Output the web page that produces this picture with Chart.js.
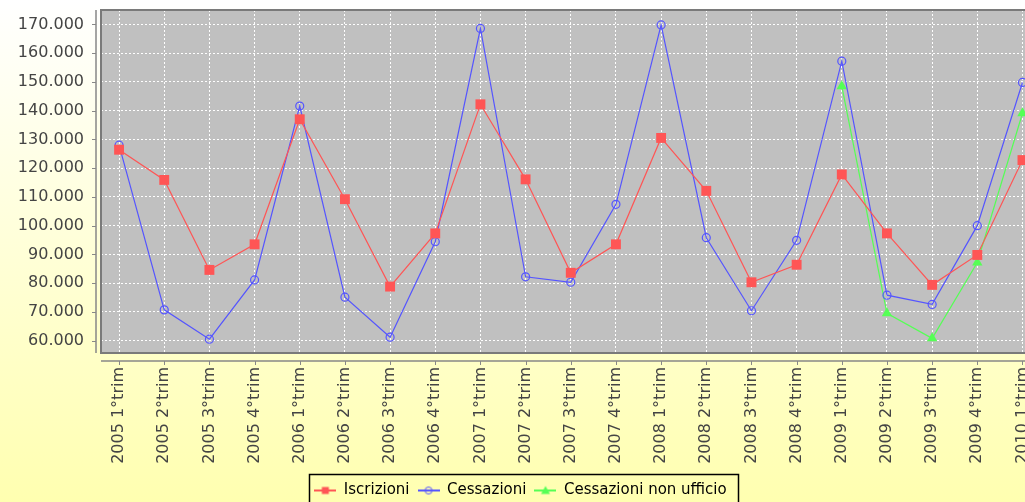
<!DOCTYPE html>
<html>
<head>
<meta charset="utf-8">
<script src="https://cdn.jsdelivr.net/npm/chart.js@4.4.1/dist/chart.umd.min.js"></script>
<style>
  html, body { margin: 0; padding: 0; width: 1025px; height: 502px; overflow: hidden; }
  body { background: linear-gradient(to bottom, #ffffff 0px, #ffffb0 502px); }
</style>
</head>
<body>
<canvas id="chart" width="1063" height="508"></canvas>
<script>
const categories = [
  '2005 1°trim', '2005 2°trim', '2005 3°trim', '2005 4°trim',
  '2006 1°trim', '2006 2°trim', '2006 3°trim', '2006 4°trim',
  '2007 1°trim', '2007 2°trim', '2007 3°trim', '2007 4°trim',
  '2008 1°trim', '2008 2°trim', '2008 3°trim', '2008 4°trim',
  '2009 1°trim', '2009 2°trim', '2009 3°trim', '2009 4°trim',
  '2010 1°trim'
];
const iscrizioni = [126400, 115900, 84600, 93500, 137000, 109200, 78800, 97300, 142200, 116100, 83600, 93500,
  130500, 112100, 80300, 86400, 117800, 97300, 79400, 89800, 122800];
const cessazioni = [128000, 70700, 60500, 81100, 141600, 75100, 61200, 94400, 168600, 82200, 80300, 107400,
  169800, 95800, 70400, 94900, 157200, 75800, 72600, 100000, 149800];
const cessazioniNonUfficio = [null, null, null, null, null, null, null, null, null, null, null, null,
  null, null, null, null, 148500, 69500, 60800, 87200, 139100];
const yTicks = [60000, 70000, 80000, 90000, 100000, 110000, 120000, 130000, 140000, 150000, 160000, 170000];

const FONT = 'DejaVu Sans';

// small legend glyphs: line with marker
function glyph(color, shape) {
  const c = document.createElement('canvas');
  c.width = 22; c.height = 12;
  const g = c.getContext('2d');
  g.strokeStyle = color; g.fillStyle = color; g.lineWidth = 2;
  g.beginPath(); g.moveTo(0, 6); g.lineTo(22, 6); g.stroke();
  g.lineWidth = 1;
  if (shape === 'rect') {
    g.fillRect(7.5, 2.5, 7, 7);
  } else if (shape === 'circle') {
    g.beginPath(); g.arc(11, 6, 3.5, 0, Math.PI * 2); g.stroke();
  } else {
    g.beginPath(); g.moveTo(11, 1.5); g.lineTo(15.5, 9.5); g.lineTo(6.5, 9.5); g.closePath(); g.fill();
  }
  return c;
}
const glyphs = [glyph('#ff5555', 'rect'), glyph('#5555ff', 'circle'), glyph('#55ff55', 'tri')];

const plotFrame = {
  id: 'plotFrame',
  beforeDraw(chart) {
    const a = chart.chartArea, ctx = chart.ctx;
    ctx.save();
    ctx.fillStyle = '#c0c0c0';
    ctx.fillRect(a.left, a.top, a.right - a.left, a.bottom - a.top);
    ctx.restore();
  },
  beforeDatasetsDraw(chart) {
    const a = chart.chartArea, ctx = chart.ctx;
    const xs = chart.scales.x, ys = chart.scales.y;
    ctx.save();
    ctx.strokeStyle = '#7a7a7a';
    ctx.lineWidth = 2;
    ctx.strokeRect(a.left, a.top, a.right - a.left, a.bottom - a.top);
    // axis lines set off from the plot, with tick marks
    ctx.strokeStyle = '#888888';
    ctx.lineWidth = 1.5;
    ctx.beginPath();
    ctx.moveTo(a.left - 5, a.top); ctx.lineTo(a.left - 5, a.bottom);
    ctx.moveTo(a.left, a.bottom + 8); ctx.lineTo(a.right, a.bottom + 8);
    ctx.stroke();
    ctx.lineWidth = 1;
    ctx.beginPath();
    ys.ticks.forEach((t, i) => {
      const py = Math.round(ys.getPixelForTick(i)) + 0.5;
      ctx.moveTo(a.left - 9, py); ctx.lineTo(a.left - 5, py);
    });
    xs.ticks.forEach((t, i) => {
      const px = Math.round(xs.getPixelForTick(i)) + 0.5;
      ctx.moveTo(px, a.bottom + 8); ctx.lineTo(px, a.bottom + 12);
    });
    ctx.stroke();
    ctx.restore();
  },
  afterDraw(chart) {
    const boxes = chart.legend.legendHitBoxes;
    if (!boxes || !boxes.length) return;
    const ctx = chart.ctx;
    const l = Math.min(...boxes.map(b => b.left)) - 5;
    const r = Math.max(...boxes.map(b => b.left + b.width)) + 12;
    const t = boxes[0].top - 9;
    ctx.save();
    ctx.strokeStyle = '#000000';
    ctx.lineWidth = 1.5;
    ctx.strokeRect(Math.round(l) + 0.5, Math.round(t) + 0.5, Math.round(r - l), 40);
    ctx.restore();
  }
};

const toPoints = arr => arr.map((v, i) => ({ x: i, y: v }));

new Chart(document.getElementById('chart'), {
  type: 'line',
  data: {
    datasets: [
      {
        label: 'Iscrizioni',
        data: toPoints(iscrizioni),
        borderColor: '#ff5555',
        backgroundColor: '#ff5555',
        borderWidth: 1.2,
        pointStyle: 'rect',
        pointRadius: 7,
        pointBorderWidth: 0,
        pointBackgroundColor: '#ff5555'
      },
      {
        label: 'Cessazioni',
        data: toPoints(cessazioni),
        borderColor: '#5555ff',
        backgroundColor: '#5555ff',
        borderWidth: 1.2,
        pointStyle: 'circle',
        pointRadius: 4,
        pointBorderWidth: 1.2,
        pointBackgroundColor: 'rgba(0,0,0,0)'
      },
      {
        label: 'Cessazioni non ufficio',
        data: toPoints(cessazioniNonUfficio),
        borderColor: '#55ff55',
        backgroundColor: '#55ff55',
        borderWidth: 1.2,
        pointStyle: 'triangle',
        pointRadius: 6,
        pointBorderWidth: 0,
        pointBackgroundColor: '#55ff55',
        spanGaps: false
      }
    ]
  },
  options: {
    responsive: false,
    animation: false,
    layout: { padding: { top: 10, right: 22, left: 0, bottom: 0 } },
    elements: { line: { tension: 0 } },
    plugins: {
      tooltip: { enabled: false },
      legend: {
        position: 'bottom',
        labels: {
          usePointStyle: true,
          pointStyleWidth: 22,
          padding: 8,
          color: '#333333',
          font: { family: FONT, size: 15 },
          generateLabels: chart => chart.data.datasets.map((ds, i) => ({
            text: ds.label,
            pointStyle: glyphs[i],
            fillStyle: ds.borderColor,
            strokeStyle: ds.borderColor,
            lineWidth: 0,
            hidden: false,
            datasetIndex: i
          }))
        }
      }
    },
    scales: {
      x: {
        type: 'linear',
        min: -0.4,
        max: 20.41,
        afterBuildTicks: s => { s.ticks = categories.map((c, i) => ({ value: i })); },
        afterFit: s => { s.height = 122; s.paddingLeft = 0; s.paddingRight = 0; s.paddingTop = 0; s.paddingBottom = 0; },
        grid: { color: '#ffffff', lineWidth: 1, drawTicks: false },
        border: { display: false, dash: [2, 2] },
        ticks: {
          autoSkip: false,
          maxRotation: 90,
          minRotation: 90,
          padding: 14,
          color: '#444444',
          font: { family: FONT, size: 16 },
          callback: v => categories[v]
        }
      },
      y: {
        min: 55700,
        max: 175000,
        afterBuildTicks: s => { s.ticks = yTicks.map(v => ({ value: v })); },
        afterFit: s => { s.width = 101; s.paddingLeft = 0; s.paddingRight = 0; s.paddingTop = 0; s.paddingBottom = 0; },
        grid: { color: '#ffffff', lineWidth: 1, drawTicks: false },
        border: { display: false, dash: [2, 2] },
        ticks: {
          padding: 17,
          color: '#444444',
          font: { family: FONT, size: 16 },
          callback: v => (v / 1000) + '.000'
        }
      }
    }
  },
  plugins: [plotFrame]
});
</script>
</body>
</html>
